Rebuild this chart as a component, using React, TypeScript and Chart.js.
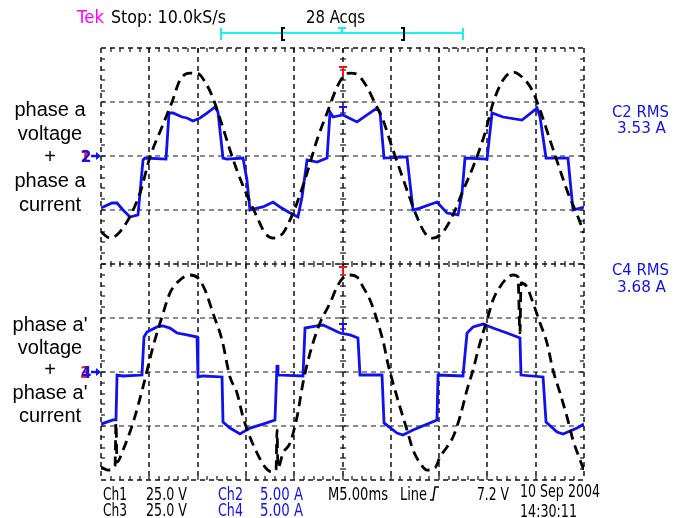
import React, { useEffect, useRef } from "react";
import { Chart, registerables } from "chart.js";
Chart.register(...registerables);

// Time in ms (5 ms/div). Voltage in V (25 V/div), current in A (5 A/div).
const phaseAVoltage: [number, number][] = [
  [0,-35.2],[0.93,-38.0],[2.28,-33.3],[4.04,-17.1],[5.07,-0.5],[6.31,13.4],[7.35,25.0],[8.18,35.2],[9.21,38.4],[9.94,38.4],
  [10.77,34.3],[11.59,26.9],[12.53,14.4],[13.35,2.8],[14.18,-7.9],[15.11,-18.1],[16.15,-28.2],[16.98,-35.7],[17.81,-38.0],[18.84,-35.7],
  [19.57,-29.6],[20.29,-21.8],[21.33,-7.9],[22.36,7.4],[23.4,19.9],[24.43,31.9],[25.05,36.6],[25.78,38.4],[26.6,37.5],[27.54,31.9],
  [28.36,24.5],[29.19,16.7],[30.12,4.2],[30.95,-6.5],[31.78,-17.1],[32.71,-28.2],[33.54,-35.7],[34.37,-38.0],[35.4,-35.2],[36.34,-28.2],
  [37.37,-17.1],[38.51,-5.1],[39.75,10.6],[40.58,24.5],[41.62,35.2],[42.65,38.9],[43.58,36.6],[44.62,30.6],[45.45,21.3],[46.48,7.4],
  [47.52,-6.5],[48.34,-17.1],[49.38,-28.2],[50,-35.7]
];
const phaseACurrent: [number, number][] = [
  [0,-4.82],[1.14,-4.35],[1.66,-4.35],[2.28,-5.0],[3.0,-5.65],[3.83,-5.46],[4.04,-3.43],[4.35,-0.37],[4.55,-0.19],[6.73,-0.28],
  [7.04,3.98],[7.45,3.98],[8.39,3.61],[8.9,3.52],[9.52,3.24],[10.25,3.52],[10.97,3.98],[11.8,4.54],[12.11,4.07],[12.63,-0.19],
  [13.04,-0.28],[14.7,-0.19],[15.11,-2.22],[15.42,-5.0],[16.15,-4.82],[16.77,-4.72],[17.81,-4.26],[18.53,-4.72],[19.57,-5.28],[20.39,-5.65],
  [20.81,-3.8],[21.33,-0.37],[22.36,-0.56],[23.4,-0.19],[23.71,4.07],[24.02,3.61],[25.05,3.8],[26.5,3.15],[27.54,3.8],[28.57,4.44],
  [28.88,4.07],[29.3,-0.19],[31.68,-0.09],[32.3,-5.0],[33.02,-4.82],[34.78,-4.26],[35.82,-5.28],[36.96,-5.46],[37.37,-3.43],[37.68,-0.19],
  [39.96,-0.28],[40.48,3.98],[41.62,3.61],[43.58,3.33],[45.14,4.44],[45.45,3.61],[46.07,-0.19],[48.34,-0.19],[48.86,-5.0],[50,-4.72]
];
const phaseA2Voltage: [number, number][] = [
  [0,-44.0],[0.72,-45.4],[1.45,-43.5],[1.55,-23.6],[1.66,-41.7],[2.28,-36.1],[3.31,-23.6],[4.35,-6.9],[5.38,11.6],[6.31,25.5],
  [7.14,36.6],[8.18,42.6],[9.21,44.9],[10.04,43.5],[10.77,38.0],[11.59,27.3],[12.53,14.8],[13.35,-2.3],[14.08,-9.7],[14.7,-20.8],
  [15.42,-30.1],[16.15,-37.5],[16.98,-44.0],[17.7,-46.3],[18.12,-45.4],[18.22,-26.9],[18.32,-44.4],[18.84,-37.5],[19.57,-32.9],[20.29,-20.8],
  [20.91,-5.1],[21.64,8.8],[22.67,22.7],[23.71,31.9],[24.43,39.4],[25.05,43.5],[25.78,44.9],[26.5,44.0],[27.12,39.4],[27.85,33.3],
  [28.57,24.1],[29.3,12.5],[29.61,5.6],[30.23,-5.1],[30.95,-16.2],[31.68,-26.9],[32.3,-36.1],[33.02,-42.1],[33.75,-45.4],[34.58,-44.4],
  [35.09,-39.4],[35.82,-34.7],[36.44,-30.1],[37.16,-20.8],[37.89,-8.3],[38.51,0.9],[39.23,13.4],[39.96,24.1],[40.58,33.3],[41.3,39.4],
  [42.03,43.5],[42.65,44.9],[43.17,44.0],[43.37,18.1],[43.48,41.2],[44.1,39.4],[44.62,33.3],[45.45,22.7],[46.17,13.4],[46.79,0.9],
  [47.52,-9.7],[48.24,-20.8],[48.86,-31.5],[49.59,-40.7],[50,-45.4]
];
const phaseA2Current: [number, number][] = [
  [0,-4.82],[1.24,-4.44],[1.55,-4.44],[1.66,-0.28],[2.28,-0.37],[4.24,-0.28],[4.45,3.24],[4.76,3.7],[5.8,4.17],[6.42,4.26],
  [7.14,4.07],[7.87,3.61],[8.9,3.43],[9.94,3.24],[10.04,-0.46],[10.56,-0.37],[12.53,-0.46],[12.63,-4.63],[13.35,-5.19],[14.39,-5.74],
  [15.42,-5.19],[16.77,-4.82],[18.01,-4.44],[18.22,0.65],[18.32,-0.28],[20.91,-0.37],[21.12,4.07],[22.36,4.26],[22.98,4.35],[24.74,3.61],
  [25.78,3.43],[26.6,3.15],[26.81,-0.28],[29.09,-0.28],[29.3,-4.72],[30.64,-5.65],[31.26,-5.83],[32.3,-5.37],[34.78,-4.44],[34.89,-0.28],
  [37.47,-0.37],[37.89,3.61],[38.51,4.17],[39.54,4.44],[40.58,4.07],[42.03,3.61],[43.37,3.15],[43.48,-0.28],[45.76,-0.46],[46.07,-4.63],
  [47.21,-5.56],[47.83,-5.74],[49.28,-5.19],[50,-4.82]
];

const VOLTS_PER_DIV = 25;
const AMPS_PER_DIV = 5;
const UPPER_REF = 2; // divisions
const LOWER_REF = -2;
const TIME_DIVS = [0, 5, 10, 15, 20, 25, 30, 35, 40, 45, 50];
const AMP_DIVS = [-4, -3, -2, -1, 0, 1, 2, 3, 4];

const leftLabelsTop = ["phase a", "voltage", "+", "phase a", "current"];
const leftLabelsBottom = ["phase a'", "voltage", "+", "phase a'", "current"];

const BLUE = "#1010f0";
const SCOPE_FONT = "DejaVu Sans, sans-serif";

function toDiv(pts: [number, number][], ref: number, perDiv: number) {
  return pts.map(([t, v]) => ({ x: t, y: ref + v / perDiv }));
}

const bgPlugin = {
  id: "bg",
  beforeDraw(chart: any) {
    const { ctx, width, height } = chart;
    ctx.save();
    ctx.fillStyle = "#fff";
    ctx.fillRect(0, 0, width, height);
    ctx.restore();
  },
};

const gridPlugin = {
  id: "scopeGrid",
  beforeDatasetsDraw(chart: any) {
    const { ctx, chartArea: a, scales } = chart;
    const xs = scales.x, ys = scales.y;
    ctx.save();
    const line = (x1: number, y1: number, x2: number, y2: number) => {
      ctx.beginPath(); ctx.moveTo(x1, y1); ctx.lineTo(x2, y2); ctx.stroke();
    };
    ctx.lineWidth = 1.5;
    ctx.setLineDash([5, 4]);
    for (const v of AMP_DIVS) {
      const py = Math.round(ys.getPixelForValue(v));
      ctx.strokeStyle = v === -4 || v === 4 || v === 0 ? "#111" : "#666";
      line(a.left, py, a.right, py);
    }
    for (const t of TIME_DIVS) {
      const px = Math.round(xs.getPixelForValue(t));
      ctx.strokeStyle = "#111";
      line(px, a.top, px, a.bottom);
    }
    ctx.setLineDash([]);
    ctx.strokeStyle = "#111";
    ctx.lineWidth = 1.2;
    // minor ticks
    const cx = Math.round(xs.getPixelForValue(25));
    const cy = Math.round(ys.getPixelForValue(0));
    for (let i = 1; i < 50; i++) {
      const px = Math.round(xs.getPixelForValue(i));
      line(px, a.top, px, a.top + 4);
      line(px, a.bottom, px, a.bottom - 4);
      line(px, cy - 3, px, cy + 3);
    }
    for (let i = -19; i < 20; i++) {
      const py = Math.round(ys.getPixelForValue(i / 5));
      line(a.left, py, a.left + 4, py);
      line(a.right, py, a.right - 4, py);
      line(cx - 3, py, cx + 3, py);
    }
    ctx.restore();
  },
};

function tmark(ctx: any, x: number, y: number, h: number, color: string) {
  ctx.strokeStyle = color;
  ctx.lineWidth = 2;
  ctx.beginPath();
  ctx.moveTo(x - 4, y); ctx.lineTo(x + 4, y);
  ctx.moveTo(x, y); ctx.lineTo(x, y + h);
  ctx.stroke();
}

const textPlugin = {
  id: "scopeText",
  afterDraw(chart: any) {
    const { ctx, scales } = chart;
    const xs = scales.x, ys = scales.y;
    ctx.save();
    ctx.textBaseline = "alphabetic";
    const txt = (s: string, x: number, y: number, w: number, color: string, size = 18) => {
      ctx.font = `${size}px ${SCOPE_FONT}`;
      ctx.fillStyle = color;
      ctx.textAlign = "left";
      ctx.fillText(s, x, y, w);
    };
    // header
    txt("Tek", 77, 23, 27, "#ff00ff");
    txt("Stop: 10.0kS/s", 111, 23, 115, "#000");
    txt("28 Acqs", 306, 23, 59, "#000");
    // cyan record bar
    ctx.strokeStyle = "#22eeee";
    ctx.lineWidth = 2;
    ctx.beginPath();
    ctx.moveTo(221, 33); ctx.lineTo(463, 33);
    ctx.moveTo(221, 28); ctx.lineTo(221, 40);
    ctx.moveTo(463, 28); ctx.lineTo(463, 40);
    ctx.stroke();
    tmark(ctx, 342, 28, 6, "#22eeee");
    ctx.strokeStyle = "#000";
    ctx.lineWidth = 2;
    ctx.beginPath();
    ctx.moveTo(285, 28); ctx.lineTo(282, 28); ctx.lineTo(282, 40); ctx.lineTo(285, 40);
    ctx.moveTo(401, 28); ctx.lineTo(404, 28); ctx.lineTo(404, 40); ctx.lineTo(401, 40);
    ctx.stroke();

    // trigger markers
    const cx = Math.round(xs.getPixelForValue(25));
    tmark(ctx, cx, 67, 9, "#ff1010");
    tmark(ctx, cx, 107, 7, BLUE);
    tmark(ctx, cx, 267, 9, "#ff1010");
    tmark(ctx, cx, 324, 8, BLUE);

    // channel ground markers
    const refMarker = (yRef: number, back: string, front: string) => {
      const py = Math.round(ys.getPixelForValue(yRef));
      ctx.font = `bold 15px ${SCOPE_FONT}`;
      ctx.fillStyle = "#ff1010";
      ctx.fillText(back, 80, py + 6);
      ctx.fillStyle = BLUE;
      ctx.fillText(front, 81, py + 6);
      ctx.strokeStyle = BLUE;
      ctx.lineWidth = 2.5;
      ctx.beginPath(); ctx.moveTo(91, py); ctx.lineTo(97, py); ctx.stroke();
      ctx.fillStyle = BLUE;
      ctx.beginPath(); ctx.moveTo(96, py - 4); ctx.lineTo(101, py); ctx.lineTo(96, py + 4); ctx.closePath(); ctx.fill();
    };
    refMarker(UPPER_REF, "1", "2");
    refMarker(LOWER_REF, "3", "4");

    // RMS readouts
    const center = (s: string, x: number, y: number, w: number, color: string, size: number) => {
      ctx.font = `${size}px ${SCOPE_FONT}`;
      ctx.fillStyle = color;
      ctx.textAlign = "center";
      ctx.fillText(s, x, y, w);
    };
    center("C2 RMS", 640.5, 117, 57, BLUE, 16);
    center("3.53 A", 641.5, 133, 49, BLUE, 16);
    center("C4 RMS", 640.5, 275, 57, BLUE, 16);
    center("3.68 A", 641.5, 292, 49, BLUE, 16);

    // left labels
    ctx.font = "20px 'Liberation Sans', Arial, sans-serif";
    ctx.fillStyle = "#000";
    ctx.textAlign = "center";
    leftLabelsTop.forEach((s, i) => ctx.fillText(s, 50, 116 + i * 23.7));
    leftLabelsBottom.forEach((s, i) => ctx.fillText(s, 50, 331 + i * 22.7));

    // bottom readout
    txt("Ch1", 103, 500, 24, "#000");
    txt("25.0 V", 146, 500, 41, "#000");
    txt("Ch2", 218, 500, 25, BLUE);
    txt("5.00 A", 260, 500, 43, BLUE);
    txt("M5.00ms", 328, 500, 60, "#000");
    txt("Line", 400, 500, 27, "#000");
    txt("7.2 V", 477, 500, 32, "#000");
    txt("Ch3", 103, 516, 24, "#000");
    txt("25.0 V", 146, 516, 41, "#000");
    txt("Ch4", 218, 516, 25, BLUE);
    txt("5.00 A", 260, 516, 43, BLUE);
    txt("10 Sep 2004", 520, 497, 80, "#000");
    txt("14:30:11", 520, 517, 57, "#000");
    // rising-edge slope icon
    ctx.strokeStyle = "#000";
    ctx.lineWidth = 1.5;
    ctx.beginPath();
    ctx.moveTo(430, 500); ctx.lineTo(433, 500); ctx.lineTo(435, 487); ctx.lineTo(439, 487);
    ctx.stroke();
    ctx.restore();
  },
};

export default function App() {
  const ref = useRef<HTMLCanvasElement | null>(null);
  useEffect(() => {
    if (!ref.current) return;
    const dashed = { borderColor: "#000", borderWidth: 2.8, borderDash: [10, 6], cubicInterpolationMode: "monotone" as const };
    const solid = { borderColor: BLUE, borderWidth: 2.8, tension: 0 };
    const chart = new Chart(ref.current, {
      type: "scatter",
      data: {
        datasets: [
          { label: "phase a voltage", data: toDiv(phaseAVoltage, UPPER_REF, VOLTS_PER_DIV), showLine: true, ...dashed },
          { label: "phase a' voltage", data: toDiv(phaseA2Voltage, LOWER_REF, VOLTS_PER_DIV), showLine: true, ...dashed },
          { label: "phase a current", data: toDiv(phaseACurrent, UPPER_REF, AMPS_PER_DIV), showLine: true, ...solid },
          { label: "phase a' current", data: toDiv(phaseA2Current, LOWER_REF, AMPS_PER_DIV), showLine: true, ...solid },
        ],
      },
      options: {
        responsive: false,
        animation: false,
        devicePixelRatio: 1,
        layout: { padding: { left: 101, right: 115, top: 48, bottom: 38 } },
        elements: { point: { radius: 0, hoverRadius: 0 } },
        plugins: { legend: { display: false }, tooltip: { enabled: false } },
        scales: {
          x: { type: "linear", min: 0, max: 50, display: false },
          y: { type: "linear", min: -4, max: 4, display: false },
        },
      },
      plugins: [bgPlugin, gridPlugin, textPlugin],
    });
    return () => chart.destroy();
  }, []);
  return (
    <div style={{ position: "fixed", left: 0, top: 0, width: 699, height: 518, background: "#fff" }}>
      <canvas ref={ref} width={699} height={518} style={{ width: 699, height: 518, display: "block" }} />
    </div>
  );
}
